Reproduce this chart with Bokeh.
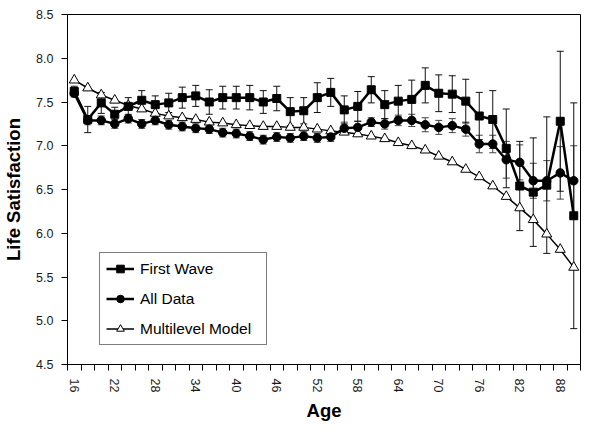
from bokeh.plotting import figure
from bokeh.models import (FixedTicker, Whisker, TeeHead, ColumnDataSource, Legend,
                          LegendItem, PrintfTickFormatter, Range1d)
from bokeh.embed import file_html
from bokeh.resources import INLINE

# ---------------- data ----------------
ages = [16, 18, 20, 22, 24, 26, 28, 30, 32, 34, 36, 38, 40, 42, 44, 46, 48, 50, 52,
        54, 56, 58, 60, 62, 64, 66, 68, 70, 72, 74, 76, 78, 80, 82, 84, 86, 88, 90]

first_wave = [7.62, 7.30, 7.49, 7.36, 7.45, 7.52, 7.47, 7.49, 7.55, 7.57, 7.50, 7.55,
              7.55, 7.55, 7.50, 7.54, 7.39, 7.40, 7.55, 7.61, 7.41, 7.45, 7.64, 7.47,
              7.51, 7.53, 7.69, 7.60, 7.59, 7.51, 7.34, 7.30, 6.97, 6.54, 6.47, 6.55,
              7.28, 6.20]
first_wave_err = [0.06, 0.15, 0.12, 0.08, 0.10, 0.11, 0.10, 0.11, 0.12, 0.12, 0.14, 0.13,
                  0.13, 0.14, 0.13, 0.14, 0.16, 0.15, 0.17, 0.16, 0.16, 0.17, 0.15, 0.16,
                  0.18, 0.22, 0.20, 0.21, 0.21, 0.25, 0.27, 0.33, 0.45, 0.51, 0.62, 0.78,
                  0.80, 1.29]

all_data = [7.60, 7.29, 7.29, 7.25, 7.31, 7.25, 7.29, 7.24, 7.22, 7.20, 7.19, 7.15,
            7.14, 7.11, 7.07, 7.10, 7.09, 7.11, 7.09, 7.10, 7.20, 7.21, 7.27, 7.25,
            7.29, 7.29, 7.24, 7.21, 7.23, 7.19, 7.02, 7.02, 6.84, 6.81, 6.60, 6.60,
            6.69, 6.60]
all_data_err = [0.04, 0.05, 0.05, 0.05, 0.05, 0.05, 0.05, 0.05, 0.05, 0.05, 0.05, 0.05,
                0.05, 0.05, 0.05, 0.05, 0.05, 0.05, 0.05, 0.05, 0.07, 0.07, 0.05, 0.06,
                0.06, 0.07, 0.08, 0.08, 0.08, 0.08, 0.10, 0.10, 0.21, 0.20, 0.20, 0.23,
                0.30, 0.40]

multilevel = [7.75, 7.66, 7.58, 7.52, 7.46, 7.42, 7.37, 7.34, 7.32, 7.30, 7.27, 7.26,
              7.24, 7.23, 7.22, 7.22, 7.21, 7.21, 7.19, 7.17, 7.155, 7.135, 7.11, 7.08,
              7.035, 7.00, 6.95, 6.88, 6.815, 6.73, 6.645, 6.54, 6.42, 6.29, 6.155, 5.99,
              5.815, 5.61]

x_tick_labels = [16, 22, 28, 34, 40, 46, 52, 58, 64, 70, 76, 82, 88]
x_tick_marks = [15, 17, 19, 21, 23, 25, 27, 29, 31, 33, 35, 37, 39, 41, 43, 45, 47, 49,
                51, 53, 55, 57, 59, 61, 63, 65, 67, 69, 71, 73, 75, 77, 79, 81, 83, 85,
                87, 89, 91]
y_ticks = [4.5, 5.0, 5.5, 6.0, 6.5, 7.0, 7.5, 8.0, 8.5]

series_names = ["First Wave", "All Data", "Multilevel Model"]
x_title = "Age"
y_title = "Life Satisfaction"

FONT = "Liberation Sans"
X_MIN, X_MAX = 15, 91
Y_MIN, Y_MAX = 4.5, 8.5

# ---------------- figure ----------------
p = figure(width=589, height=425,
           x_range=Range1d(X_MIN, X_MAX), y_range=Range1d(Y_MIN, Y_MAX),
           output_backend="svg", toolbar_location=None,
           min_border_left=67, min_border_top=14, min_border_right=9, min_border_bottom=61)
p.background_fill_color = "white"
p.border_fill_color = "white"
p.outline_line_color = "black"
p.outline_line_width = 1
p.xgrid.visible = False
p.ygrid.visible = False

# x axis
p.xaxis.ticker = FixedTicker(ticks=x_tick_labels, minor_ticks=x_tick_marks)
p.xaxis.major_tick_out = 0
p.xaxis.major_tick_in = 0
p.xaxis.minor_tick_out = 6
p.xaxis.minor_tick_in = 0
p.xaxis.major_label_orientation = "vertical"
p.xaxis.major_label_standoff = 8
p.xaxis.axis_label = x_title
p.xaxis.axis_label_standoff = 5

# y axis
p.yaxis.ticker = FixedTicker(ticks=y_ticks)
p.yaxis.formatter = PrintfTickFormatter(format="%.1f")
p.yaxis.major_tick_out = 6
p.yaxis.major_tick_in = 0
p.yaxis.minor_tick_out = 0
p.yaxis.minor_tick_in = 0
p.yaxis.major_label_standoff = 8
p.yaxis.axis_label = y_title
p.yaxis.axis_label_standoff = 9

for ax in (p.xaxis[0], p.yaxis[0]):
    ax.axis_line_color = "black"
    ax.major_tick_line_color = "black"
    ax.minor_tick_line_color = "black"
    ax.major_label_text_font = FONT
    ax.major_label_text_font_size = "12.5px"
    ax.major_label_text_color = "#1a1a1a"
    ax.axis_label_text_font = FONT
    ax.axis_label_text_font_size = "18.5px"
    ax.axis_label_text_font_style = "bold"
    ax.axis_label_text_color = "black"

# ---------------- series ----------------
src_fw = ColumnDataSource(dict(x=ages, y=first_wave,
                               lo=[v - e for v, e in zip(first_wave, first_wave_err)],
                               hi=[v + e for v, e in zip(first_wave, first_wave_err)]))
src_ad = ColumnDataSource(dict(x=ages, y=all_data,
                               lo=[v - e for v, e in zip(all_data, all_data_err)],
                               hi=[v + e for v, e in zip(all_data, all_data_err)]))
src_ml = ColumnDataSource(dict(x=ages, y=multilevel))

# multilevel model (drawn first, below)
l_ml = p.line("x", "y", source=src_ml, line_color="black", line_width=1.5)
s_ml = p.scatter("x", "y", source=src_ml, marker="triangle", size=10,
                 fill_color="white", line_color="black", line_width=1)

# all data
l_ad = p.line("x", "y", source=src_ad, line_color="black", line_width=2.5)
s_ad = p.scatter("x", "y", source=src_ad, marker="circle", size=8.5,
                 fill_color="black", line_color="black")

# first wave
l_fw = p.line("x", "y", source=src_fw, line_color="black", line_width=2.5)
s_fw = p.scatter("x", "y", source=src_fw, marker="square", size=8,
                 fill_color="black", line_color="black")

# error bars
for src, col in ((src_ad, "#444444"), (src_fw, "#111111")):
    w = Whisker(base="x", lower="lo", upper="hi", source=src, dimension="height",
                line_color=col, line_width=1,
                upper_head=TeeHead(size=7, line_color=col, line_width=1),
                lower_head=TeeHead(size=7, line_color=col, line_width=1))
    p.add_layout(w)

# ---------------- legend ----------------
legend = Legend(items=[LegendItem(label=series_names[0], renderers=[l_fw, s_fw]),
                       LegendItem(label=series_names[1], renderers=[l_ad, s_ad]),
                       LegendItem(label=series_names[2], renderers=[l_ml, s_ml])],
                location=(32, 19), margin=0, padding=6, spacing=11,
                label_height=19, glyph_height=19, glyph_width=28,
                label_standoff=6, label_width=120,
                label_text_font=FONT, label_text_font_size="15.5px",
                label_text_color="black",
                border_line_color="black", border_line_width=1,
                background_fill_color="white", background_fill_alpha=1)
p.add_layout(legend)

open("out.html", "w").write(file_html(p, INLINE))
